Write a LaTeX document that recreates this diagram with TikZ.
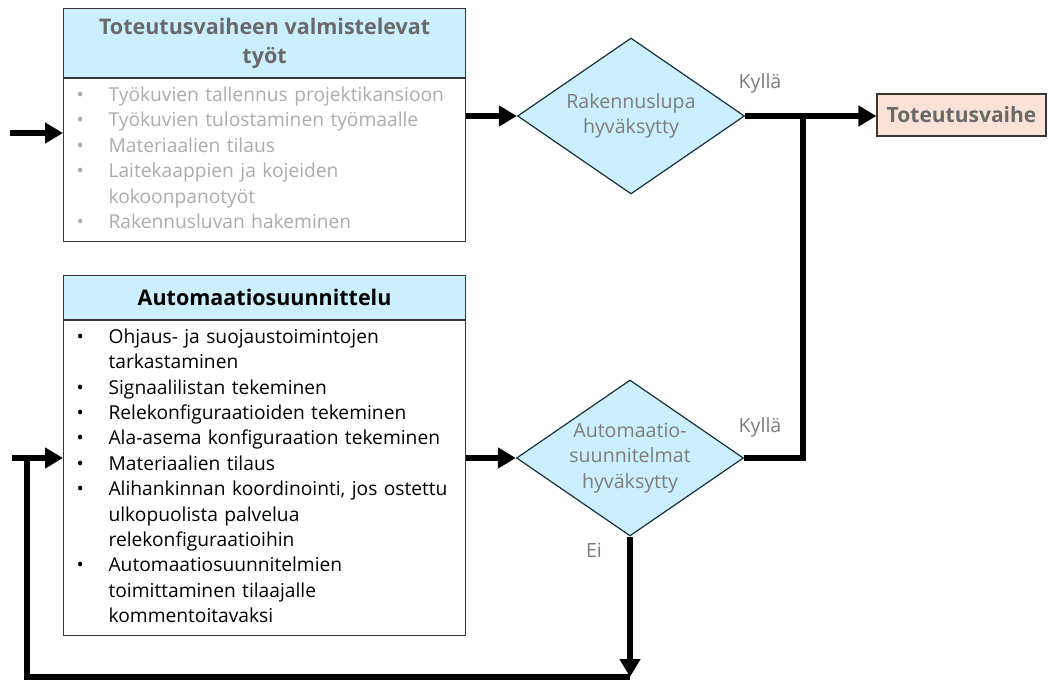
\documentclass[tikz,border=0pt]{standalone}
\usepackage{fontspec}
\setmainfont{Open Sans}
\usetikzlibrary{arrows.meta,shapes.geometric}

\definecolor{hdrblue}{RGB}{203,239,252}
\definecolor{peach}{RGB}{251,226,214}
\definecolor{boxline}{RGB}{55,55,55}
\definecolor{dmdline}{RGB}{22,48,60}
\definecolor{softgray}{RGB}{172,172,172}
\definecolor{midgray}{RGB}{125,125,125}
\definecolor{deepgray}{RGB}{105,105,105}

% one bulleted paragraph: bullet flush left, wrapped lines hang under the text
\newcommand\bitem[1]{\par\noindent\hangindent=32pt\hangafter=1
  \makebox[32pt][l]{\textbullet}#1\par}
% opens a bullet block, lifting it slightly inside its box
\newcommand\bstart{\vspace*{-16pt}}

\begin{document}
\begin{tikzpicture}[x=1pt,y=-1pt,
  hdr/.style={draw=boxline, line width=1.2pt, fill=hdrblue, minimum width=402pt,
    anchor=north west, inner sep=0pt, align=center,
    font=\fontsize{21.5}{29}\selectfont\bfseries},
  body/.style={draw=boxline, line width=1.2pt, fill=white, text width=376pt,
    inner xsep=13pt, inner ysep=0pt, anchor=north west, align=left,
    font=\fontsize{19.2}{25.4}\selectfont},
  decision/.style={diamond, draw=dmdline, line width=1.2pt, fill=hdrblue,
    minimum width=227pt, minimum height=156pt, inner sep=0pt},
  dtext/.style={align=center, text=midgray, font=\fontsize{19.6}{25.8}\selectfont},
  goalbox/.style={draw=boxline, line width=1.2pt, fill=peach, minimum width=169pt,
    minimum height=42pt, inner sep=0pt, text=deepgray,
    font=\fontsize{21}{23}\selectfont\bfseries},
  answer/.style={text=midgray, inner sep=0pt, font=\fontsize{19.6}{22}\selectfont},
  flow/.style={line width=5.5pt, -{Triangle[length=18pt,width=20pt]}},
  wire/.style={line width=5.5pt}
]
\useasboundingbox (0,0) rectangle (1048,684);

% preparatory works
\node[hdr, minimum height=69pt, text=deepgray] (prephdr) at (63,8)
  {Toteutusvaiheen valmistelevat\\työt};
\node[body, minimum height=163pt, text=softgray] (prepbody) at (prephdr.south west) {%
  \bstart
  \bitem{Työkuvien tallennus projektikansioon}
  \bitem{Työkuvien tulostaminen työmaalle}
  \bitem{Materiaalien tilaus}
  \bitem{Laitekaappien ja kojeiden\newline kokoonpanotyöt}
  \bitem{Rakennusluvan hakeminen}};

% automation design
\node[hdr, minimum height=44pt, text=black] (designhdr) at (63,275)
  {Automaatiosuunnittelu};
\node[body, minimum height=315pt, text=black] (designbody) at (designhdr.south west) {%
  \bstart
  \bitem{Ohjaus- ja suojaustoimintojen\newline tarkastaminen}
  \bitem{Signaalilistan tekeminen}
  \bitem{Relekonfiguraatioiden tekeminen}
  \bitem{Ala-asema konfiguraation tekeminen}
  \bitem{Materiaalien tilaus}
  \bitem{Alihankinnan koordinointi, jos ostettu\newline ulkopuolista palvelua\newline relekonfiguraatioihin}
  \bitem{Automaatiosuunnitelmien\newline toimittaminen tilaajalle\newline kommentoitavaksi}};

% decisions
\node[decision, label={[dtext]center:Rakennuslupa\\hyväksytty}] (permit) at (631,116) {};
\node[decision, label={[dtext]center:Automaatio-\\suunnitelmat\\hyväksytty}] (approved) at (630,458) {};

% next phase
\node[goalbox] (goal) at (961.5,115) {Toteutusvaihe};

% answers
\node[answer] (yes1) at (760,83) {Kyllä};
\node[answer] (yes2) at (760,427) {Kyllä};
\node[answer] (no2) at (594,550) {Ei};

% connectors
\coordinate (entry1) at (10,133);
\coordinate (entry2) at (12,458);
\coordinate (join) at (803,116);
\coordinate (retA) at (630,677);
\coordinate (retB) at (27,677);
\coordinate (retC) at (27,458);

\draw[flow] (entry1) -- (entry1 -| prepbody.west);
\draw[flow] (prepbody.east |- permit.west) -- (permit.west);
\draw[flow] (permit.east) -- (permit.east -| goal.west);
\draw[wire] (approved.east) -| (join);
\draw[flow] (designbody.east |- approved.west) -- (approved.west);
\draw[flow] (approved.south) -- (retA);
\draw[wire] (retA) -- (retB) -- (retC);
\draw[flow] (entry2) -- (entry2 -| designbody.west);
\end{tikzpicture}
\end{document}
